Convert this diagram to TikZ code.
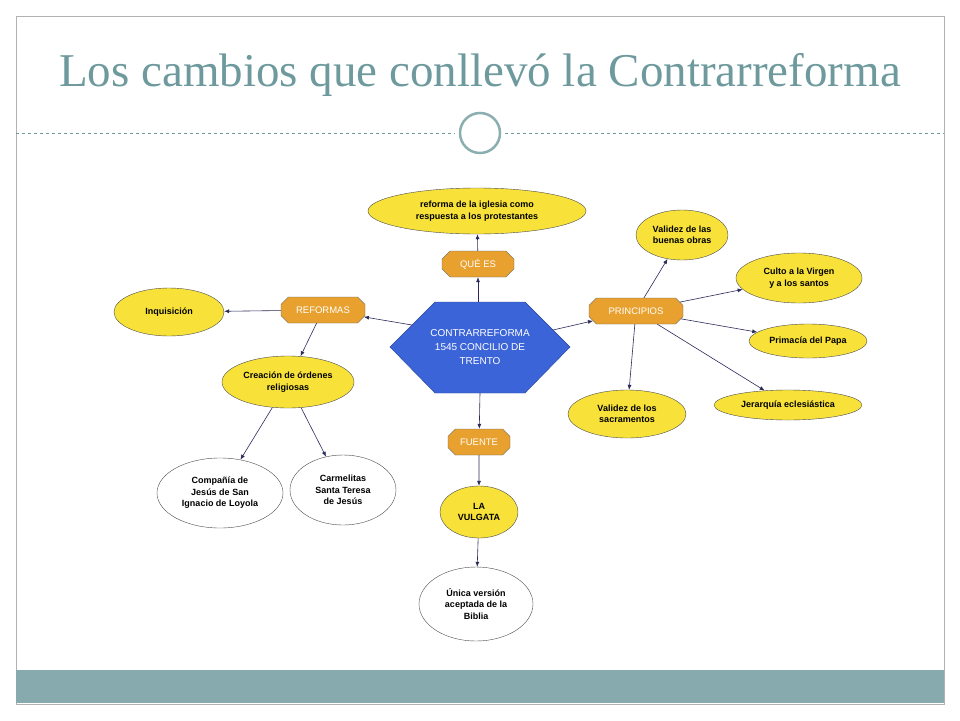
\documentclass[tikz,border=0pt]{standalone}
\usepackage{fontspec}
\setmainfont{Liberation Serif}
\newfontfamily\lbl{Liberation Sans}
\usetikzlibrary{shapes.misc,shapes.geometric,arrows.meta}
\definecolor{ttl}{HTML}{6E9A9E}
\definecolor{bar}{HTML}{86AAAE}
\definecolor{yel}{HTML}{F8E23A}
\definecolor{org}{HTML}{E8A12E}
\definecolor{blu}{HTML}{3B64D9}
\definecolor{arr}{HTML}{2A2A5A}
\tikzset{
 oval/.style={ellipse,draw=black!70,fill=yel,font=\lbl\bfseries\fontsize{9}{11.5}\selectfont,align=center,inner sep=0pt},
 woval/.style={oval,fill=white},
 oct/.style={chamfered rectangle,chamfered rectangle xsep=5pt,draw=black!60,fill=org,text=white,font=\lbl\fontsize{9.5}{11}\selectfont,inner sep=1pt,minimum height=26pt},
 link/.style={draw=arr,-{Latex[length=5pt,width=4pt]},line width=0.6pt}
}
\begin{document}
\begin{tikzpicture}[x=1pt,y=-1pt]
\useasboundingbox (0,0) rectangle (960,720);
\fill[white] (0,0) rectangle (960,720);
\draw[black!30] (16,16) rectangle (944,704);
\fill[bar] (16,670) rectangle (944,703);
\node[text=ttl,font=\fontsize{47}{50}\selectfont] (title) at (480,75) {Los cambios que conllevó la Contrarreforma};
\draw[ttl,dashed,line width=0.5pt] (16,133) -- (455,133) (505,133) -- (944,133);
\draw[ttl!80,line width=2.5pt] (480,133) circle (20);
\fill[blu,draw=blu!70!black] (390,347) -- (435,302) -- (525,302) -- (570,347) -- (525,393) -- (435,393) -- cycle;
\node[text=white,font=\lbl\fontsize{10}{14}\selectfont,align=center,minimum width=180pt,minimum height=90pt] (c) at (480,347) {CONTRARREFORMA\\1545 CONCILIO DE\\TRENTO};
\node[oct,minimum width=72pt] (q) at (478,264) {QUÉ ES};
\node[oct,minimum width=84pt] (r) at (323,310) {REFORMAS};
\node[oct,minimum width=94pt] (p) at (636,311) {PRINCIPIOS};
\node[oct,minimum width=62pt] (f) at (479,442) {FUENTE};
\node[oval,minimum width=218pt,minimum height=46pt] (re) at (477,211) {reforma de la iglesia como\\respuesta a los protestantes};
\node[oval,minimum width=110pt,minimum height=48pt] (in) at (169,312) {Inquisición};
\node[oval,minimum width=132pt,minimum height=52pt] (cr) at (288,382) {Creación de órdenes\\religiosas};
\node[woval,minimum width=126pt,minimum height=70pt] (co) at (220,493) {Compañía de\\Jesús de San\\Ignacio de Loyola};
\node[woval,minimum width=106pt,minimum height=70pt] (ca) at (343,490) {Carmelitas\\Santa Teresa\\de Jesús};
\node[oval,minimum width=92pt,minimum height=50pt] (vb) at (682,235) {Validez de las\\buenas obras};
\node[oval,minimum width=126pt,minimum height=50pt] (cu) at (799,278) {Culto a la Virgen\\y a los santos};
\node[oval,minimum width=118pt,minimum height=34pt] (pr) at (808,341) {Primacía del Papa};
\node[oval,minimum width=148pt,minimum height=30pt] (je) at (788,405) {Jerarquía eclesiástica};
\node[oval,minimum width=118pt,minimum height=48pt] (vs) at (627,414) {Validez de los\\sacramentos};
\node[oval,minimum width=78pt,minimum height=52pt] (lv) at (479,512) {LA\\VULGATA};
\node[woval,minimum width=114pt,minimum height=74pt] (un) at (476,604) {Única versión\\aceptada de la\\Biblia};
\draw[link] (478,302) -- (q);
\draw[link] (q) -- (re);
\draw[link] (412,325) -- (r);
\draw[link] (r) -- (in);
\draw[link] (r) -- (cr);
\draw[link] (cr) -- (co);
\draw[link] (cr) -- (ca);
\draw[link] (553,330) -- (p);
\draw[link] (p) -- (vb);
\draw[link] (p) -- (cu);
\draw[link] (p) -- (pr);
\draw[link] (p) -- (je);
\draw[link] (p) -- (vs);
\draw[link] (480,393) -- (f);
\draw[link] (f) -- (lv);
\draw[link] (lv) -- (un);
\end{tikzpicture}
\end{document}
